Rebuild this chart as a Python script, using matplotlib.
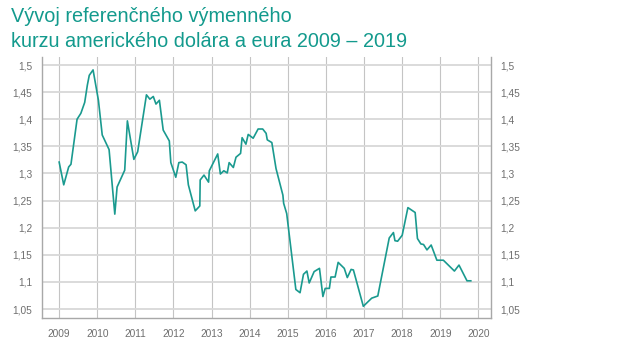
import matplotlib
matplotlib.use("Agg")
import matplotlib.pyplot as plt

# kurz USD/EUR, odčítané z grafu (desatinný rok, hodnota)
roky = [2009.00, 2009.12, 2009.25, 2009.31, 2009.47, 2009.57, 2009.67, 2009.74,
        2009.79, 2009.89, 2010.03, 2010.13, 2010.31, 2010.46, 2010.52, 2010.72,
        2010.79, 2010.96, 2011.06, 2011.29, 2011.38, 2011.47, 2011.54, 2011.63,
        2011.73, 2011.89, 2011.93, 2012.06, 2012.14, 2012.23, 2012.33, 2012.39,
        2012.57, 2012.69, 2012.70, 2012.80, 2012.92, 2012.94, 2013.16, 2013.23,
        2013.32, 2013.41, 2013.46, 2013.57, 2013.64, 2013.76, 2013.80, 2013.90,
        2013.96, 2014.09, 2014.22, 2014.34, 2014.43, 2014.46, 2014.58, 2014.69,
        2014.87, 2014.89, 2014.97, 2015.21, 2015.32, 2015.41, 2015.50, 2015.56,
        2015.69, 2015.83, 2015.92, 2015.98, 2016.09, 2016.13, 2016.24, 2016.32,
        2016.48, 2016.56, 2016.66, 2016.72, 2016.98, 2017.20, 2017.36, 2017.66,
        2017.77, 2017.81, 2017.88, 2018.00, 2018.15, 2018.34, 2018.40, 2018.49,
        2018.56, 2018.65, 2018.76, 2018.91, 2019.08, 2019.37, 2019.49, 2019.70,
        2019.80]
kurz = [1.321, 1.279, 1.312, 1.317, 1.400, 1.411, 1.431, 1.463,
        1.481, 1.491, 1.435, 1.371, 1.344, 1.225, 1.275, 1.306,
        1.397, 1.326, 1.340, 1.445, 1.437, 1.442, 1.428, 1.435,
        1.380, 1.360, 1.320, 1.293, 1.320, 1.321, 1.316, 1.279,
        1.231, 1.240, 1.288, 1.297, 1.284, 1.305, 1.336, 1.299,
        1.305, 1.301, 1.320, 1.311, 1.330, 1.337, 1.366, 1.354,
        1.372, 1.365, 1.382, 1.382, 1.374, 1.362, 1.357, 1.309,
        1.260, 1.245, 1.226, 1.086, 1.080, 1.114, 1.120, 1.098,
        1.119, 1.125, 1.073, 1.088, 1.088, 1.109, 1.109, 1.136,
        1.125, 1.108, 1.123, 1.122, 1.055, 1.070, 1.074, 1.181,
        1.191, 1.176, 1.175, 1.186, 1.237, 1.228, 1.180, 1.170,
        1.169, 1.159, 1.168, 1.140, 1.140, 1.120, 1.131, 1.102,
        1.102]

x_ticky = list(range(2009, 2021))
y_ticky = [1.05, 1.1, 1.15, 1.2, 1.25, 1.3, 1.35, 1.4, 1.45, 1.5]
y_popisky = ["1,05", "1,1", "1,15", "1,2", "1,25", "1,3", "1,35", "1,4", "1,45", "1,5"]

plt.rcParams['font.family'] = ['Liberation Sans', 'DejaVu Sans']

fig = plt.figure(figsize=(6.25, 3.48), dpi=100)
ax = fig.add_axes([0.0672, 0.0862, 0.7184, 0.75])

ax.plot(roky, kurz, color='#1a9a8f', lw=1.2, zorder=3)

ax.set_xlim(2008.55, 2020.33)
ax.set_ylim(1.0334, 1.5148)
ax.set_xticks(x_ticky)
ax.set_xticklabels([str(r) for r in x_ticky])
ax.set_yticks(y_ticky)
ax.set_yticklabels(y_popisky)

ax.yaxis.grid(True, color='#d8d8d8', lw=1.3)
ax.xaxis.grid(True, color='#c4c4c4', lw=0.8)
ax.set_axisbelow(True)

for s in ['left', 'bottom', 'right']:
    ax.spines[s].set_color('#a8a8a8')
    ax.spines[s].set_linewidth(1.0)
ax.spines['top'].set_visible(False)

ax.tick_params(axis='both', length=0, labelsize=7.3, colors='#6e6e6e')
ax.tick_params(axis='x', pad=8)
ax.tick_params(axis='y', pad=7, labelright=True)

fig.text(0.017, 0.952, "Vývoj referenčného výmenného", color='#139a8d',
         fontsize=14.3, va='center', ha='left')
fig.text(0.017, 0.88, "kurzu amerického dolára a eura 2009 – 2019", color='#139a8d',
         fontsize=14.3, va='center', ha='left')

fig.savefig("out.png", dpi=100)
